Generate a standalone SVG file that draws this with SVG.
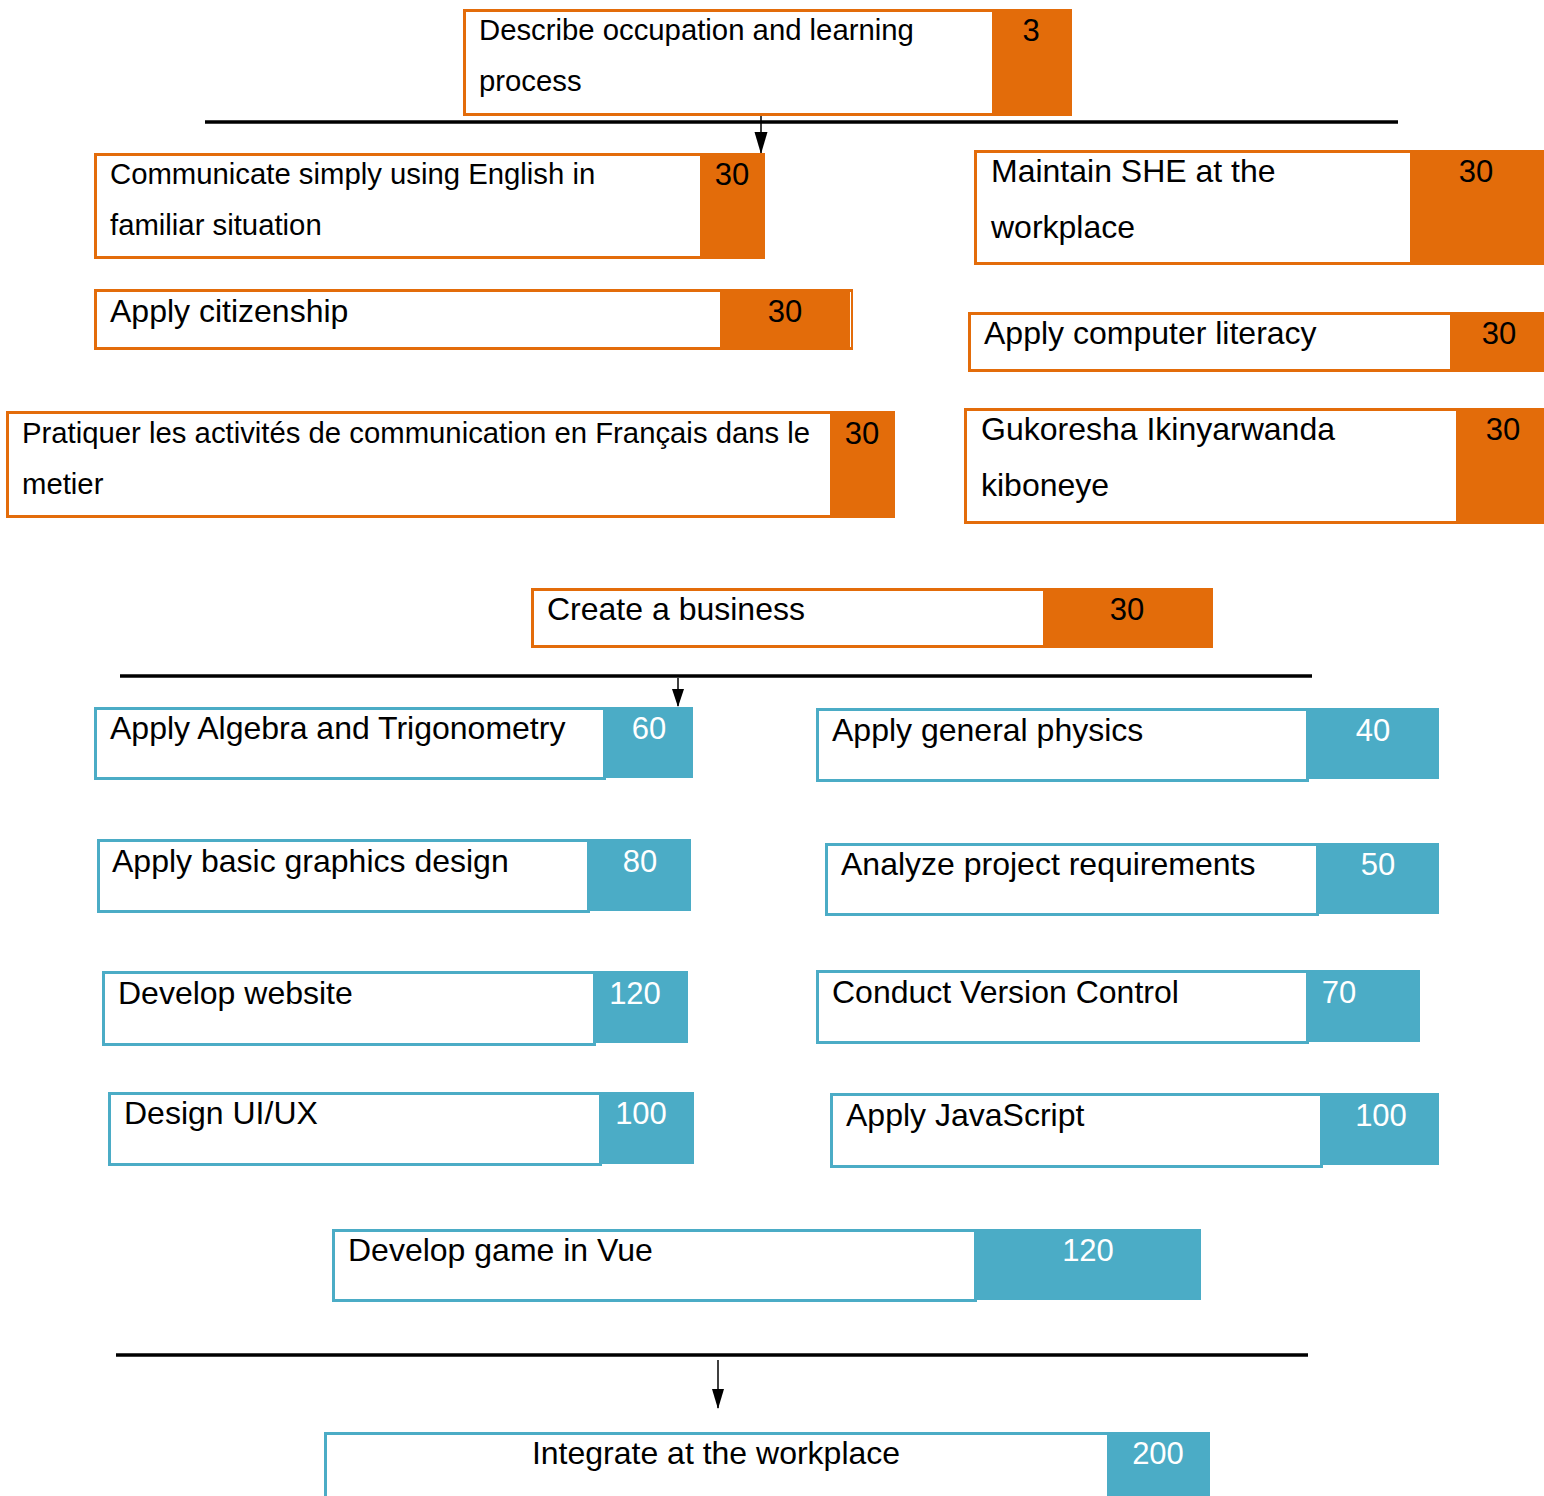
<svg xmlns="http://www.w3.org/2000/svg" width="1544" height="1496" viewBox="0 0 1544 1496">
<style>
.of{fill:#fff;stroke:#E36C0A;stroke-width:3}
.ob{fill:#E36C0A}
.bf{fill:#fff;stroke:#4BACC6;stroke-width:3}
.bb{fill:#4BACC6}
.t{font-family:"Liberation Sans",Arial,sans-serif;fill:#000}
.s29{font-size:29.3px}
.s32{font-size:32px}
.no{font-family:"Liberation Sans",Arial,sans-serif;font-size:31px;text-anchor:middle;fill:#000}
.nb{font-family:"Liberation Sans",Arial,sans-serif;font-size:31px;text-anchor:middle;fill:#fff}
.bar{stroke:#000;stroke-width:3.5}
</style>
<rect width="1544" height="1496" fill="#fff"/>

<g id="connectors">
<line class="bar" x1="205" y1="122" x2="1398" y2="122"/>
<line class="bar" x1="120" y1="676" x2="1312" y2="676"/>
<line class="bar" x1="116" y1="1355" x2="1308" y2="1355"/>
<path d="M761,108 L761,153" stroke="#000" stroke-width="1.5"/>
<path d="M754.5,132 L767.5,132 L761,154 Z" fill="#000"/>
<path d="M678,678 L678,706" stroke="#000" stroke-width="1.5"/>
<path d="M672,689 L684,689 L678,707 Z" fill="#000"/>
<path d="M718,1360 L718,1408" stroke="#000" stroke-width="1.5"/>
<path d="M712,1389 L724,1389 L718,1409 Z" fill="#000"/>
</g>

<g id="n-describe">
<rect class="of" x="464.5" y="10.5" width="606" height="104"/>
<rect class="ob" x="992" y="9" width="80" height="107"/>
<text class="t s29" x="479" y="40">Describe occupation and learning</text>
<text class="t s29" x="479" y="91">process</text>
<text class="no" x="1031" y="41">3</text>
</g>

<g id="n-english">
<rect class="of" x="95.5" y="154.5" width="668" height="103"/>
<rect class="ob" x="700" y="153" width="65" height="106"/>
<text class="t s29" x="110" y="184">Communicate simply using English in</text>
<text class="t s29" x="110" y="235">familiar situation</text>
<text class="no" x="732" y="185">30</text>
</g>

<g id="n-she">
<rect class="of" x="975.5" y="151.5" width="566" height="112"/>
<rect class="ob" x="1410" y="150" width="134" height="115"/>
<text class="t s32" x="991" y="182">Maintain SHE at the</text>
<text class="t s32" x="991" y="238">workplace</text>
<text class="no" x="1476" y="182">30</text>
</g>

<g id="n-citizenship">
<rect class="of" x="95.5" y="290.5" width="756" height="58"/>
<rect class="ob" x="720" y="289" width="130" height="61"/>
<rect x="850" y="292" width="1" height="55" fill="#fff"/>
<text class="t s32" x="110" y="322">Apply citizenship</text>
<text class="no" x="785" y="322">30</text>
</g>

<g id="n-computer">
<rect class="of" x="969.5" y="313.5" width="573" height="57"/>
<rect class="ob" x="1450" y="312" width="94" height="60"/>
<text class="t s32" x="984" y="344">Apply computer literacy</text>
<text class="no" x="1499" y="344">30</text>
</g>

<g id="n-francais">
<rect class="of" x="7.5" y="412.5" width="886" height="104"/>
<rect class="ob" x="830" y="411" width="65" height="107"/>
<text class="t s29" x="22" y="443">Pratiquer les activités de communication en Français dans le</text>
<text class="t s29" x="22" y="494">metier</text>
<text class="no" x="862" y="444">30</text>
</g>

<g id="n-kinyarwanda">
<rect class="of" x="965.5" y="409.5" width="577" height="113"/>
<rect class="ob" x="1456" y="408" width="88" height="116"/>
<text class="t s32" x="981" y="440">Gukoresha Ikinyarwanda</text>
<text class="t s32" x="981" y="496">kiboneye</text>
<text class="no" x="1503" y="440">30</text>
</g>

<g id="n-business">
<rect class="of" x="532.5" y="589.5" width="679" height="57"/>
<rect class="ob" x="1043" y="588" width="170" height="60"/>
<text class="t s32" x="547" y="620">Create a business</text>
<text class="no" x="1127" y="620">30</text>
</g>

<g id="n-algebra">
<rect class="bf" x="95.5" y="708.5" width="509" height="70"/>
<rect class="bb" x="604" y="707" width="89" height="71"/>
<text class="t s32" x="110" y="739">Apply Algebra and Trigonometry</text>
<text class="nb" x="649" y="739">60</text>
</g>

<g id="n-physics">
<rect class="bf" x="817.5" y="709.5" width="490" height="71"/>
<rect class="bb" x="1307" y="708" width="132" height="71"/>
<text class="t s32" x="832" y="741">Apply general physics</text>
<text class="nb" x="1373" y="741">40</text>
</g>

<g id="n-graphics">
<rect class="bf" x="98.5" y="840.5" width="490" height="71"/>
<rect class="bb" x="588" y="839" width="103" height="72"/>
<text class="t s32" x="112" y="872">Apply basic graphics design</text>
<text class="nb" x="640" y="872">80</text>
</g>

<g id="n-requirements">
<rect class="bf" x="826.5" y="844.5" width="491" height="70"/>
<rect class="bb" x="1317" y="843" width="122" height="71"/>
<text class="t s32" x="841" y="875">Analyze project requirements</text>
<text class="nb" x="1378" y="875">50</text>
</g>

<g id="n-website">
<rect class="bf" x="103.5" y="972.5" width="491" height="72"/>
<rect class="bb" x="594" y="971" width="94" height="72"/>
<text class="t s32" x="118" y="1004">Develop website</text>
<text class="nb" x="635" y="1004">120</text>
</g>

<g id="n-version">
<rect class="bf" x="817.5" y="971.5" width="490" height="71"/>
<rect class="bb" x="1307" y="970" width="113" height="72"/>
<text class="t s32" x="832" y="1003">Conduct Version Control</text>
<text class="nb" x="1339" y="1003">70</text>
</g>

<g id="n-uiux">
<rect class="bf" x="109.5" y="1093.5" width="491" height="71"/>
<rect class="bb" x="600" y="1092" width="94" height="72"/>
<text class="t s32" x="124" y="1124">Design UI/UX</text>
<text class="nb" x="641" y="1124">100</text>
</g>

<g id="n-javascript">
<rect class="bf" x="831.5" y="1094.5" width="490" height="72"/>
<rect class="bb" x="1321" y="1093" width="118" height="72"/>
<text class="t s32" x="846" y="1126">Apply JavaScript</text>
<text class="nb" x="1381" y="1126">100</text>
</g>

<g id="n-vue">
<rect class="bf" x="333.5" y="1230.5" width="642" height="70"/>
<rect class="bb" x="975" y="1229" width="226" height="71"/>
<text class="t s32" x="348" y="1261">Develop game in Vue</text>
<text class="nb" x="1088" y="1261">120</text>
</g>

<g id="n-integrate">
<rect class="bf" x="325.5" y="1433.5" width="783" height="70"/>
<rect class="bb" x="1108" y="1432" width="102" height="64"/>
<text class="t s32" x="716" y="1464" text-anchor="middle">Integrate at the workplace</text>
<text class="nb" x="1158" y="1464">200</text>
</g>
</svg>
